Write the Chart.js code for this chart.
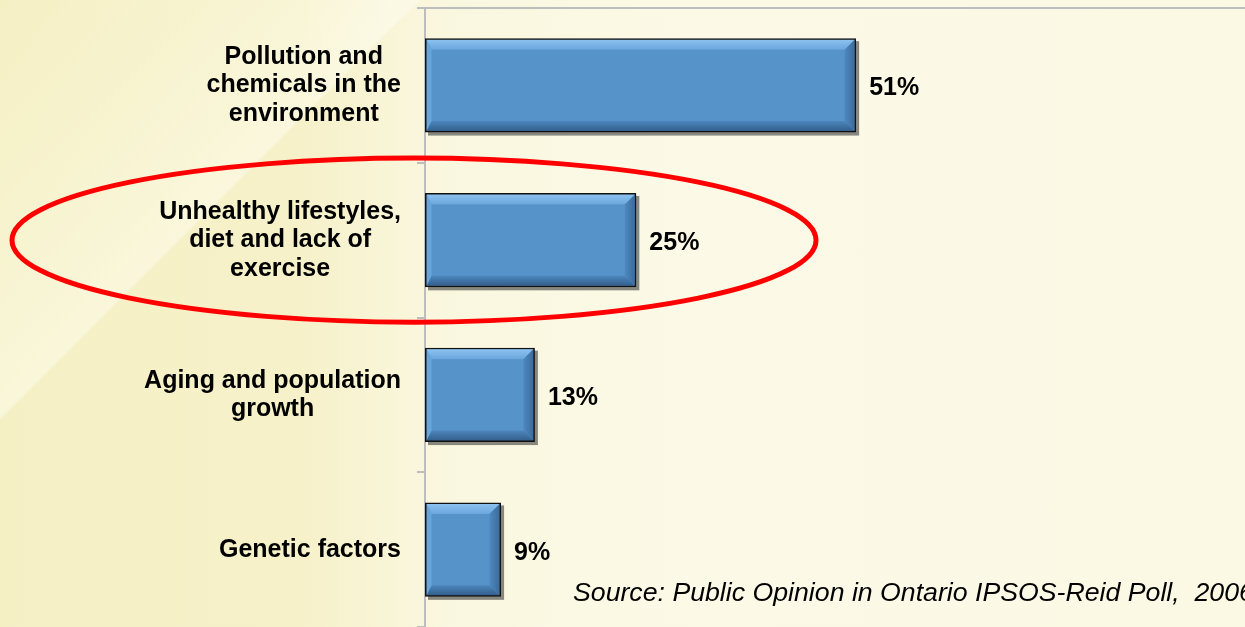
<!DOCTYPE html>
<html>
<head>
<meta charset="utf-8">
<script src="https://cdn.jsdelivr.net/npm/chart.js@4/dist/chart.umd.min.js"></script>
<style>
  html, body { margin: 0; padding: 0; }
  body {
    width: 1245px; height: 627px; overflow: hidden;
    background:
      linear-gradient(135deg, rgba(255,255,245,0) 0%, rgba(255,255,245,0.15) 10%, rgba(255,255,245,0.45) 22.3%, rgba(255,255,245,0) 22.5%),
      linear-gradient(to right, #F5F0C4 0px, #F6F1C9 300px, #FAF7DF 440px, #FCFAE7 700px, #FBF9E4 1245px);
  }
  #wrap { position: relative; width: 1245px; height: 627px; }
</style>
</head>
<body>
<div id="wrap"><canvas id="c"></canvas></div>
<script>
// ---- data ----
const categories = [
  ["Pollution and", "chemicals in the", "environment"],
  ["Unhealthy lifestyles,", "diet and lack of", "exercise"],
  ["Aging and population", "growth"],
  ["Genetic factors"]
];
const values = [51, 25, 13, 9];
const valueLabels = ["51%", "25%", "13%", "9%"];
const sourceText = "Source: Public Opinion in Ontario IPSOS-Reid Poll,  2006";
const highlightIndex = 1;

const AXIS_GRAY = '#BDBDBD';
const LABEL_FONT = 'bold 25px "Liberation Sans", Arial, sans-serif';

function barRect(el) {
  const p = el.getProps(['x', 'y', 'base', 'height'], true);
  const l = Math.min(p.x, p.base), r = Math.max(p.x, p.base);
  return { l, r, t: p.y - p.height / 2, b: p.y + p.height / 2 };
}

const decorPlugin = {
  id: 'decor',
  beforeDatasetsDraw(chart) {
    const ctx = chart.ctx;
    ctx.save();
    chart.getDatasetMeta(0).data.forEach(el => {
      const r = barRect(el);
      ctx.fillStyle = 'rgba(60,60,60,0.6)';
      ctx.fillRect(r.l + 3, r.t + 3, r.r - r.l, r.b - r.t);
    });
    ctx.restore();
  },
  afterDatasetsDraw(chart) {
    const ctx = chart.ctx;
    ctx.save();
    chart.getDatasetMeta(0).data.forEach(el => {
      const r = barRect(el);
      const i = 1.5, bv = 10;
      const L = r.l + i, R = r.r - i, T = r.t + i, B = r.b - i;
      const poly = (pts, fill) => {
        ctx.beginPath();
        ctx.moveTo(pts[0][0], pts[0][1]);
        for (let k = 1; k < pts.length; k++) ctx.lineTo(pts[k][0], pts[k][1]);
        ctx.closePath();
        ctx.fillStyle = fill; ctx.fill();
      };
      let g = ctx.createLinearGradient(0, T, 0, T + bv);
      g.addColorStop(0, '#8CC2F0'); g.addColorStop(1, '#6BA6DC');
      poly([[L, T], [R, T], [R - bv, T + bv], [L + 5, T + bv]], g);
      g = ctx.createLinearGradient(0, B - bv, 0, B);
      g.addColorStop(0, '#4C86BC'); g.addColorStop(1, '#335F8C');
      poly([[L, B], [R, B], [R - bv, B - bv], [L + 5, B - bv]], g);
      g = ctx.createLinearGradient(R - bv, 0, R, 0);
      g.addColorStop(0, '#4E88BE'); g.addColorStop(1, '#3B6C9C');
      poly([[R, T], [R, B], [R - bv, B - bv], [R - bv, T + bv]], g);
      poly([[L, T], [L + 5, T + bv], [L + 5, B - bv], [L, B]], '#6AA5DA');
    });
    ctx.restore();
  },
  afterDraw(chart) {
    const ctx = chart.ctx;
    const ys = chart.scales.y;
    const area = chart.chartArea;
    const meta = chart.getDatasetMeta(0);
    ctx.save();
    ctx.font = LABEL_FONT;
    ctx.fillStyle = '#000';
    ctx.textAlign = 'center';
    ctx.textBaseline = 'middle';
    const labelRight = area.left - 24;
    const lh = 28.5;
    categories.forEach((lines, idx) => {
      const cy = ys.getPixelForValue(idx);
      const w = Math.max(...lines.map(s => ctx.measureText(s).width));
      const cx = labelRight - w / 2;
      lines.forEach((s, j) => ctx.fillText(s, cx, cy + (j - (lines.length - 1) / 2) * lh));
    });
    ctx.textAlign = 'left';
    meta.data.forEach((el, idx) => {
      const r = barRect(el);
      ctx.fillText(valueLabels[idx], r.r + 13, (r.t + r.b) / 2 + 3);
    });
    const ey = ys.getPixelForValue(highlightIndex);
    ctx.beginPath();
    ctx.ellipse(area.left - 11, ey, 402, 82, 0, 0, Math.PI * 2);
    ctx.lineWidth = 5;
    ctx.strokeStyle = '#FF0000';
    ctx.stroke();
    ctx.font = 'italic 26.7px "Liberation Sans", Arial, sans-serif';
    ctx.textBaseline = 'alphabetic';
    ctx.fillStyle = '#000';
    ctx.fillText(sourceText, 573, 601);
    ctx.restore();
  }
};

new Chart(document.getElementById('c'), {
  type: 'bar',
  data: {
    labels: categories,
    datasets: [{
      data: values,
      backgroundColor: '#5593C9',
      borderColor: '#111111',
      borderWidth: 2,
      borderSkipped: false,
      barPercentage: 0.61,
      categoryPercentage: 1
    }]
  },
  options: {
    indexAxis: 'y',
    responsive: true,
    maintainAspectRatio: false,
    animation: false,
    layout: { padding: { top: 8, left: 0, right: 0, bottom: 0 } },
    plugins: { legend: { display: false }, tooltip: { enabled: false }, title: { display: false } },
    scales: {
      x: { display: false, min: 0, max: 97 },
      y: {
        offset: true,
        grid: {
          offset: true,
          drawTicks: true,
          tickLength: 8,
          lineWidth: 2,
          color: c => c.index === 0 ? AXIS_GRAY : 'rgba(0,0,0,0)',
          tickColor: AXIS_GRAY
        },
        ticks: { display: false },
        border: { display: true, color: AXIS_GRAY, width: 2 },
        afterFit: s => { s.width = 425; }
      }
    }
  },
  plugins: [decorPlugin]
});
</script>
</body>
</html>
